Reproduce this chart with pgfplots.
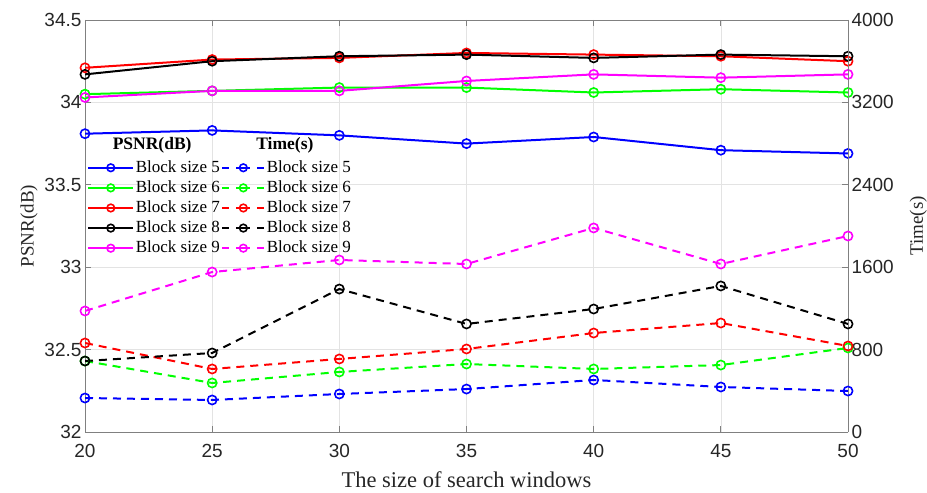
\documentclass[border=0pt]{standalone}
\usepackage{fontspec}
\setmainfont{Liberation Serif}
\setsansfont{Liberation Sans}
\usepackage{pgfplots}
\pgfplotsset{compat=1.18}
\usetikzlibrary{calc}
\definecolor{axgray}{RGB}{128,128,128}
\definecolor{mgreen}{RGB}{0,255,0}
\definecolor{mmag}{RGB}{255,0,255}
\pgfplotsset{
  common/.style={
    scale only axis, width=763pt, height=412pt,
    xmin=20, xmax=50,
    axis line style={axgray, line width=0.8pt},
    tick style={axgray, line width=0.8pt},
    tick align=inside,
    major tick length=6pt,
    /pgf/number format/assume math mode=true,
    ticklabel style={font=\fontsize{19}{19}\selectfont\sffamily, text=black!85},
    label style={font=\fontsize{19}{19}\selectfont, text=black!85},
    every axis plot/.append style={line width=2pt, mark=o, mark size=4.6pt, mark options={solid, line width=1.6pt}},
  },
  solidleg/.style={legend image code/.code={\draw[mark repeat=2,mark phase=2, line width=2pt, mark size=3.8pt] plot coordinates {(0pt,0pt) (22.5pt,0pt) (45pt,0pt)};}},
  dashleg/.style={legend image code/.code={\draw[mark repeat=2,mark phase=2, line width=2pt, mark size=3.8pt, dash pattern=on 7pt off 7pt on 14pt off 7pt on 7pt off 0pt] plot coordinates {(0pt,0pt) (21pt,0pt) (42pt,0pt)};}},
}
\begin{document}
\begin{tikzpicture}
\begin{axis}[common, name=ax1,
  ymin=32, ymax=34.5,
  xtick={20,25,...,50},
  ytick={32,32.5,33,33.5,34,34.5},
  yticklabels={32,32.5,33,33.5,34,34.5},
  grid=major, grid style={gray!22, line width=0.6pt},
  axis y line*=left, axis x line*=box,
  xticklabel style={yshift=-9pt},
  xlabel={The size of search windows},
  ylabel={PSNR(dB)},
  ylabel style={yshift=0pt},
  xlabel style={yshift=-7pt, font=\fontsize{22.5}{22.5}\selectfont},
]
\addplot[blue] coordinates {(20,33.81) (25,33.83) (30,33.80) (35,33.75) (40,33.79) (45,33.71) (50,33.69)};
\addplot[mgreen] coordinates {(20,34.05) (25,34.07) (30,34.09) (35,34.09) (40,34.06) (45,34.08) (50,34.06)};
\addplot[red] coordinates {(20,34.21) (25,34.26) (30,34.27) (35,34.30) (40,34.29) (45,34.28) (50,34.25)};
\addplot[black] coordinates {(20,34.17) (25,34.25) (30,34.28) (35,34.29) (40,34.27) (45,34.29) (50,34.28)};
\addplot[mmag] coordinates {(20,34.03) (25,34.07) (30,34.07) (35,34.13) (40,34.17) (45,34.15) (50,34.17)};
\end{axis}
\begin{axis}[common, name=ax2,
  ymin=0, ymax=4000,
  ytick={0,800,1600,2400,3200,4000},
  axis y line*=right, axis x line=none,
  scaled y ticks=false,
  yticklabel style={/pgf/number format/1000 sep={}},
  ylabel={Time(s)},
  ylabel style={yshift=-9pt},
  legend columns=2,
  legend cell align=left,
  legend style={at={(0.003,0.665)}, anchor=north west, draw=none, fill=none,
    font=\fontsize{17}{17}\selectfont, inner sep=0pt, outer sep=0pt,
    row sep=0.6pt,
    /tikz/every even column/.style={column sep=0pt},
    nodes={inner sep=1.5pt, text depth=3.5pt, text height=13pt}},
]
\addlegendimage{blue, solidleg, mark=o}
\addlegendentry{Block size 5}
\addplot[blue, dashed, dash pattern=on 8pt off 6pt, dashleg] coordinates {(20,330) (25,311) (30,369) (35,417) (40,505) (45,437) (50,398)};
\addlegendentry{Block size 5}
\addlegendimage{mgreen, solidleg, mark=o}
\addlegendentry{Block size 6}
\addplot[mgreen, dashed, dash pattern=on 8pt off 6pt, dashleg] coordinates {(20,689) (25,476) (30,583) (35,660) (40,612) (45,650) (50,816)};
\addlegendentry{Block size 6}
\addlegendimage{red, solidleg, mark=o}
\addlegendentry{Block size 7}
\addplot[red, dashed, dash pattern=on 8pt off 6pt, dashleg] coordinates {(20,864) (25,612) (30,709) (35,806) (40,961) (45,1058) (50,835)};
\addlegendentry{Block size 7}
\addlegendimage{black, solidleg, mark=o}
\addlegendentry{Block size 8}
\addplot[black, dashed, dash pattern=on 8pt off 6pt, dashleg] coordinates {(20,689) (25,767) (30,1388) (35,1049) (40,1194) (45,1418) (50,1049)};
\addlegendentry{Block size 8}
\addlegendimage{mmag, solidleg, mark=o}
\addlegendentry{Block size 9}
\addplot[mmag, dashed, dash pattern=on 8pt off 6pt, dashleg] coordinates {(20,1175) (25,1553) (30,1670) (35,1631) (40,1981) (45,1631) (50,1903)};
\addlegendentry{Block size 9}
\node[font=\fontsize{17.5}{17.5}\selectfont\bfseries] at (rel axis cs:0.088,0.697) {PSNR(dB)};
\node[font=\fontsize{17.5}{17.5}\selectfont\bfseries] at (rel axis cs:0.262,0.697) {Time(s)};
\end{axis}
\pgfresetboundingbox
\path[use as bounding box] ($(ax1.south west)+(-85pt,-60pt)$) rectangle ($(ax1.north east)+(79pt,20pt)$);
\end{tikzpicture}
\end{document}
